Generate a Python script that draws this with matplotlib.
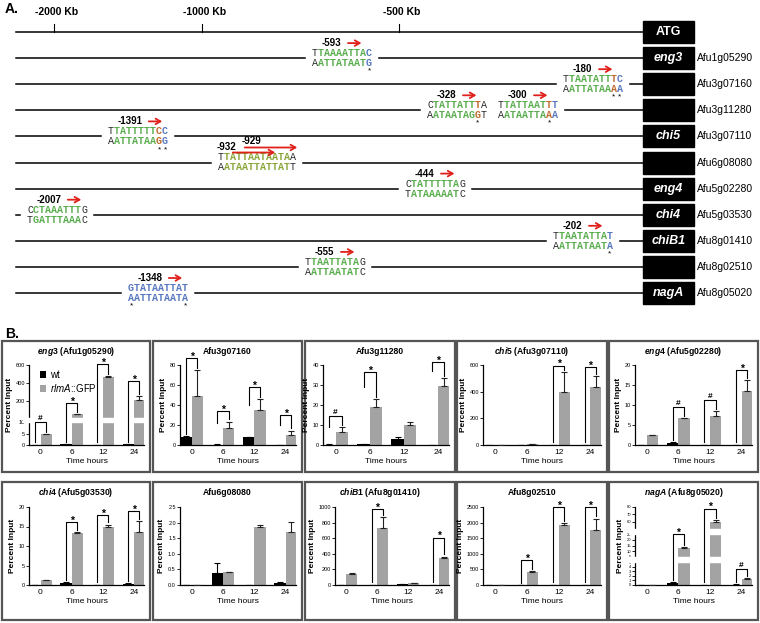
import numpy as np
import matplotlib.pyplot as plt
from matplotlib.patches import Rectangle
from matplotlib.ticker import NullLocator
from matplotlib.transforms import offset_copy

plt.rcParams['font.family'] = ['Liberation Sans', 'DejaVu Sans']
plt.rcParams['mathtext.fontset'] = 'custom'
plt.rcParams['mathtext.it'] = 'Liberation Sans:italic:bold'
plt.rcParams['mathtext.sf'] = 'Liberation Sans:italic'
plt.rcParams['mathtext.rm'] = 'Liberation Sans:bold'

# ---------------- panel A data ----------------
scale_labels = ['-2000 Kb', '-1000 Kb', '-500 Kb']
scale_pos = [54, 202, 399]
gene_names = ['ATG', 'eng3', '', '', 'chi5', '', 'eng4', 'chi4', 'chiB1', '', 'nagA']
gene_ids = ['', 'Afu1g05290', 'Afu3g07160', 'Afu3g11280', 'Afu3g07110', 'Afu6g08080',
            'Afu5g02280', 'Afu5g03530', 'Afu8g01410', 'Afu8g02510', 'Afu8g05020']

site_row = [1, 2, 3, 3, 4, 5, 6, 7, 8, 9, 10]
site_label = ['-593', '-180', '-328', '-300', '-1391', '-932', '-444', '-2007', '-202', '-555', '-1348']
site_x = [312, 563, 427, 498, 108, 218, 405, 27, 553, 305, 128]
site_top = ['TTAAAATTAC', 'TTAATATTTC', 'CTATTATTTA', 'TTATTAATTT', 'TTATTTTTCC',
            'TTATTAATAATAA', 'CTATTTTTAG', 'CCTAAATTTG', 'TTAATATTAT', 'TTAATTATAG', 'GTATAATTAT']
site_bot = ['AATTATAATG', 'AATTATAAAA', 'AATAATAGGT', 'AATAATTAAA', 'AATTATAAGG',
            'AATAATTATTATT', 'TATAAAAATC', 'TGATTTAAAC', 'AATTATAATA', 'AATTAATATC', 'AATTATAATA']
site_colors = ['kggggggggb', 'kgggggggob', 'kgggggggok', 'kgggggggob', 'kgggggggob',
               'klllllllllllk', 'kggggggggk', 'kggggggggk', 'kggggggggb', 'kggggggggk', 'bbbbbbbbbb']
site_stars = [[9], [8, 9], [8], [8], [8, 9], [], [], [], [9], [], [0, 9]]
second_label = '-929'

# ---------------- panel B data ----------------
times = ['0', '6', '12', '24']
panel_titles = [r'$\mathit{eng3}$ (Afu1g05290)', 'Afu3g07160', 'Afu3g11280',
                r'$\mathit{chi5}$ (Afu3g07110)', r'$\mathit{eng4}$ (Afu5g02280)',
                r'$\mathit{chi4}$ (Afu5g03530)', 'Afu6g08080', r'$\mathit{chiB}$1 (Afu8g01410)',
                'Afu8g02510', r'$\mathit{nagA}$ (Afu8g05020)']
wt_mean = [[0.1, 0.5, 0.1, 0.3], [8, 0.5, 8, 0.3], [0.2, 0.5, 3.0, 0.1], [0.3, 1, 0.5, 0.5],
           [0.05, 0.5, 0.05, 0.1], [0.05, 0.6, 0.05, 0.3], [0.01, 0.37, 0.01, 0.08],
           [2, 5, 10, 3], [2, 5, 10, 5], [0.05, 0.5, 0.05, 0.1]]
wt_err = [[0.05, 0.1, 0.05, 0.1], [0.8, 0.1, 0.5, 0.1], [0.1, 0.2, 0.8, 0.05], [0, 0.5, 0, 0],
          [0, 0.3, 0, 0], [0, 0.15, 0, 0.1], [0, 0.35, 0, 0.03],
          [0, 0, 5, 0], [0, 0, 0, 0], [0, 0.1, 0, 0.03]]
gfp_mean = [[4.6, 55, 470, 215], [49, 17, 35, 10], [6.5, 19, 10, 29.5], [1, 5, 400, 435],
            [2.4, 6.7, 7.2, 13.5], [1.2, 13.3, 14.9, 13.5], [0.01, 0.41, 1.86, 1.69],
            [140, 730, 25, 345], [10, 430, 1920, 1750], [0.1, 13, 60, 1.3]]
gfp_err = [[0.3, 3, 10, 40], [26, 6.5, 11, 4.5], [2.5, 4, 1.5, 4], [0.3, 1, 145, 80],
           [0.1, 0.1, 1.3, 2.7], [0.1, 0.2, 0.6, 2.8], [0, 0.02, 0.06, 0.34],
           [8, 140, 5, 20], [0, 15, 80, 380], [0, 0.5, 2.5, 0.2]]
y_ticks = [[0, 5, 10, 200, 400, 600], [0, 20, 40, 60, 80], [0, 10, 20, 30, 40], [0, 200, 400, 600],
           [0, 5, 10, 15, 20], [0, 5, 10, 15, 20], [0, 0.5, 1.0, 1.5, 2.0, 2.5],
           [0, 200, 400, 600, 800, 1000], [0, 500, 1000, 1500, 2000, 2500],
           [0, 1, 2, 3, 4, 5, 5.001, 10, 15, 20, 25, 60, 70, 80]]
y_ticklabels = [None, None, None, None, None, None, ['0.0', '0.5', '1.0', '1.5', '2.0', '2.5'],
                None, None, ['0', '1', '2', '3', '4', '5', '5', '10', '15', '20', '25', '60', '70', '80']]
y_max = [600, 80, 40, 600, 20, 20, 2.5, 1000, 2500, 80]
# broken axes: value breakpoints -> pixel heights
break_vals = {0: [0, 10, 10.001, 600], 9: [0, 5, 5.001, 25, 50, 80]}
break_px = {0: [0, 23, 27, 80], 9: [0, 23, 28, 51, 56, 78]}
break_bands = {0: [(10, 10.001)], 9: [(5, 5.001), (25, 50)]}

sig_group = [[0, 1, 2, 3], [0, 1, 2, 3], [0, 1, 3], [2, 3], [1, 2, 3], [1, 2, 3], [],
             [1, 3], [1, 2, 3], [1, 2, 3]]
sig_top = [[9, 155, 585, 400], [85, 32, 56, 28], [13.5, 35.5, 40.5], [580, 570], [9, 10.7, 18.3],
           [15.6, 17.4, 18.5], [], [950, 580], [740, 2430, 2430], [23, 75, 3]]
sig_low = [[0.2, 0.6, 0.2, 0.4], [9, 20, 38, 18], [8, 28, 36], [5, 5], [0.8, 0.2, 0.2],
           [0.8, 0.2, 0.4], [], [10, 10], [10, 15, 15], [0.6, 0.1, 0.2]]
sig_mark = [['#', '*', '*', '*'], ['*', '*', '*', '*'], ['#', '*', '*'], ['*', '*'], ['#', '#', '*'],
            ['*', '*', '*'], [], ['*', '*'], ['*', '*', '*'], ['*', '*', '#']]

W, H = 760, 623
fig = plt.figure(figsize=(7.6, 6.23), dpi=100)
base = fig.add_axes([0, 0, 1, 1])
base.set_xlim(0, W)
base.set_ylim(H, 0)
base.axis('off')


def frac(x0, y0, x1, y1):
    return [x0 / W, 1 - y1 / H, (x1 - x0) / W, (y1 - y0) / H]


def piecewise(xp, fp):
    xp = np.asarray(xp, float)
    fp = np.asarray(fp, float)
    s_hi = (fp[-1] - fp[-2]) / (xp[-1] - xp[-2])
    s_lo = (fp[1] - fp[0]) / (xp[1] - xp[0])

    def f(v):
        v = np.asarray(v, float)
        out = np.interp(v, xp, fp)
        out = np.where(v > xp[-1], fp[-1] + (v - xp[-1]) * s_hi, out)
        out = np.where(v < xp[0], fp[0] + (v - xp[0]) * s_lo, out)
        return out
    return f


# ---------------- panel A ----------------
seq_colors = {'k': '#2a2a2a', 'g': '#5aad4e', 'o': '#c0692b', 'b': '#5778c0', 'l': '#8aa63a'}
red = '#e0201b'
cw = 6.0
row_y = 32 + 26.1 * np.arange(len(gene_names))

base.text(5, 9, 'A.', fontsize=10, fontweight='bold', va='center')
for lab, x in zip(scale_labels, scale_pos):
    base.text(x + 3, 12, lab, fontsize=7.5, fontweight='bold', ha='center', va='center')
    base.plot([x, x], [24, row_y[0]], color='k', lw=0.8)

for r, y in enumerate(row_y):
    idx = [i for i in range(len(site_row)) if site_row[i] == r]
    if idx:
        g0 = min(site_x[i] for i in idx) - 7
        g1 = max(site_x[i] + len(site_top[i]) * cw for i in idx) + 7
        base.plot([16, g0], [y, y], color='k', lw=1.1)
        base.plot([g1, 643], [y, y], color='k', lw=1.1)
    else:
        base.plot([16, 643], [y, y], color='k', lw=1.1)
    base.add_patch(Rectangle((643, y - 11), 51, 22, color='black'))
    if gene_names[r]:
        base.text(668.5, y, gene_names[r], color='white', fontsize=9, fontweight='bold',
                  fontstyle='normal' if r == 0 else 'italic', ha='center', va='center')
    if gene_ids[r]:
        base.text(697, y, gene_ids[r], fontsize=7.5, ha='left', va='center')

arrow_kw = dict(arrowstyle='->,head_length=0.35,head_width=0.2', color=red, lw=1.3)
for i in range(len(site_row)):
    y = row_y[site_row[i]]
    x0 = site_x[i]
    for seq, dy in ((site_top[i], -5), (site_bot[i], 5)):
        for j, ch in enumerate(seq):
            cc = site_colors[i][j]
            base.text(x0 + j * cw, y + dy, ch, color=seq_colors[cc], family='Liberation Mono',
                      fontsize=7.2, fontweight='normal' if cc == 'k' else 'bold',
                      ha='left', va='center')
    for j in site_stars[i]:
        base.text(x0 + j * cw + cw / 2, y + 13, '*', fontsize=6, ha='center', va='center')
    if site_label[i] == '-932':
        base.text(x0 - 1, y - 16, site_label[i], fontsize=7, fontweight='bold', ha='left', va='center')
        base.annotate('', xy=(x0 + 60, y - 10), xytext=(x0 + 12, y - 10), arrowprops=arrow_kw)
        base.text(x0 + 24, y - 21, second_label, fontsize=7, fontweight='bold', ha='left', va='center')
        base.annotate('', xy=(x0 + 82, y - 15), xytext=(x0 + 24, y - 15), arrowprops=arrow_kw)
    else:
        base.text(x0 + 10, y - 15, site_label[i], fontsize=7, fontweight='bold', ha='left', va='center')
        a0 = x0 + 10 + 4.8 * len(site_label[i]) + 4
        base.annotate('', xy=(a0 + 19, y - 15), xytext=(a0, y - 15), arrowprops=arrow_kw)

# ---------------- panel B ----------------
base.text(5, 334, 'B.', fontsize=10, fontweight='bold', va='center')
box_x = [(2, 150), (153, 302), (305, 455), (457, 607), (609, 758)]
box_y = [(341, 472), (482, 620)]
ax_left = [[29, 180, 323, 483, 635], [29, 180, 335, 483, 635]]
ax_y = [(365, 445), (507, 585)]
gray = '#a3a3a3'
xs = np.arange(4)

for p in range(10):
    r, c = divmod(p, 5)
    bx0, bx1 = box_x[c]
    by0, by1 = box_y[r]
    base.add_patch(Rectangle((bx0, by0), bx1 - bx0, by1 - by0, fill=False, ec='#555555', lw=1.6))
    base.text((bx0 + bx1) / 2, by0 + 10.5, panel_titles[p], fontsize=6.2, fontweight='bold',
              ha='center', va='center')

    ax = fig.add_axes(frac(ax_left[r][c], ax_y[r][0], bx1 - 6, ax_y[r][1]))
    ax.patch.set_alpha(0)
    if p in break_vals:
        ax.set_yscale('function', functions=(piecewise(break_vals[p], break_px[p]),
                                             piecewise(break_px[p], break_vals[p])))
    ax.set_ylim(0, y_max[p])
    ax.set_xlim(-0.37, 3.33)

    hw = ax.bar(xs - 0.18, wt_mean[p], width=0.36, color='black', zorder=2)
    hg = ax.bar(xs + 0.18, gfp_mean[p], width=0.36, color=gray, zorder=2)
    ax.errorbar(xs - 0.18, wt_mean[p], yerr=[np.zeros(4), wt_err[p]], fmt='none',
                ecolor='black', elinewidth=0.8, capsize=2, capthick=0.8, zorder=3)
    ax.errorbar(xs + 0.18, gfp_mean[p], yerr=[np.zeros(4), gfp_err[p]], fmt='none',
                ecolor='#222222', elinewidth=0.8, capsize=2, capthick=0.8, zorder=3)

    for lo, hi in break_bands.get(p, []):
        ax.axhspan(lo, hi, xmin=-0.05, xmax=1.0, color='white', zorder=4, clip_on=False)

    tr = offset_copy(ax.transData, fig=fig, y=1.5, units='points')
    for g, top, low, mark in zip(sig_group[p], sig_top[p], sig_low[p], sig_mark[p]):
        xw, xg = g - 0.18, g + 0.18
        right = gfp_mean[p][g] + gfp_err[p][g]
        ax.plot([xw, xw, xg, xg], [low, top, top, right], color='black', lw=0.8,
                transform=tr, clip_on=False, zorder=5)
        if mark == '*':
            ttr = offset_copy(ax.transData, fig=fig, y=0.3, units='points')
            ax.text(g, top, mark, fontsize=7.5, fontweight='bold', ha='center', va='baseline',
                    transform=ttr, clip_on=False, zorder=5)
        else:
            ttr = offset_copy(ax.transData, fig=fig, y=3.0, units='points')
            ax.text(g, top, mark, fontsize=6, fontweight='bold', ha='center', va='baseline',
                    transform=ttr, clip_on=False, zorder=5)

    for s in ('top', 'right'):
        ax.spines[s].set_visible(False)
    for s in ('left', 'bottom'):
        ax.spines[s].set_linewidth(0.9)
    if y_ticklabels[p] is None:
        ax.set_yticks(y_ticks[p], [f'{t:g}' for t in y_ticks[p]])
    else:
        ax.set_yticks(y_ticks[p], y_ticklabels[p])
    ax.yaxis.set_minor_locator(NullLocator())
    ax.tick_params(axis='y', labelsize=3 if p == 9 else 4, length=2, width=0.6, pad=1)
    ax.set_xticks(xs, times)
    ax.tick_params(axis='x', labelsize=6, length=0, pad=3)
    ax.set_xlabel('Time hours', fontsize=6, labelpad=1)
    ax.set_ylabel('Percent Input', fontsize=6, fontweight='bold', labelpad=2)

    if p == 0:
        ax.legend([hw, hg], ['wt', r'$\mathsf{rlmA}$::GFP'], loc='upper left',
                  bbox_to_anchor=(0.05, 1.0), frameon=False, fontsize=7, handlelength=0.7,
                  handleheight=0.7, handletextpad=0.4, borderpad=0, labelspacing=0.2)

fig.savefig('out.png', dpi=100)
